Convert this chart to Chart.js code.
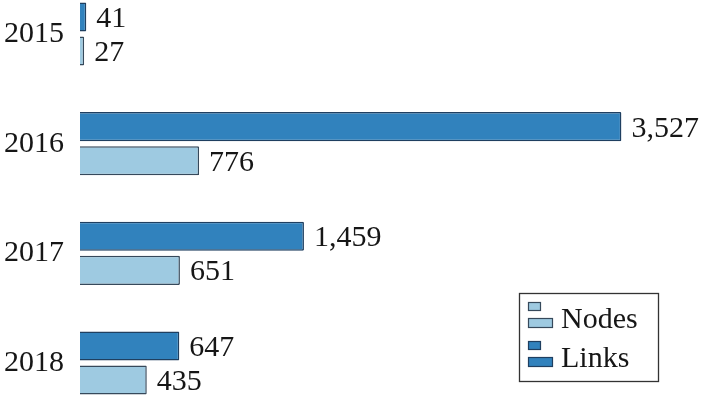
<!DOCTYPE html>
<html>
<head>
<meta charset="utf-8">
<script src="https://cdn.jsdelivr.net/npm/chart.js@4"></script>
<style>
  html, body { margin: 0; padding: 0; background: #fff; }
  #wrap { width: 704px; height: 398px; }
</style>
</head>
<body>
<div id="wrap"><canvas id="myChart"></canvas></div>
<script>
const years = ['2015', '2016', '2017', '2018']
const links = [41, 3527, 1459, 647]
const nodes = [27, 776, 651, 435]
const seriesNames = ['Links', 'Nodes']

const FONT = '"Liberation Serif", "Times New Roman", serif'
const TXT = '#161616'

// value labels at the end of each bar
const valueLabels = {
    id: 'valueLabels',
    afterDatasetsDraw(chart) {
        const ctx = chart.ctx
        ctx.save()
        ctx.font = '30px ' + FONT
        ctx.fillStyle = TXT
        ctx.textBaseline = 'middle'
        ctx.textAlign = 'left'
        chart.data.datasets.forEach((ds, i) => {
            chart.getDatasetMeta(i).data.forEach((bar, j) => {
                ctx.fillText(ds.data[j].toLocaleString('en-US'), bar.x + 10, bar.y + 2)
            })
        })
        ctx.restore()
    }
}

// boxed legend in the lower right, Nodes first
const boxLegend = {
    id: 'boxLegend',
    afterDraw(chart) {
        const ctx = chart.ctx
        const x = 519, y = 293, w = 139, h = 88
        ctx.save()
        ctx.fillStyle = '#fff'
        ctx.fillRect(x, y, w, h)
        ctx.strokeStyle = '#333'
        ctx.lineWidth = 1.3
        ctx.strokeRect(x + 0.5, y + 0.5, w, h)
        const order = [1, 0]
        order.forEach((di, k) => {
            const ds = chart.data.datasets[di]
            const top = y + 9 + k * 39
            ctx.fillStyle = ds.backgroundColor
            ctx.strokeStyle = ds.borderColor
            ctx.lineWidth = 1.2
            ctx.fillRect(x + 9, top, 13, 9)
            ctx.strokeRect(x + 9.5, top + 0.5, 12, 8)
            ctx.fillRect(x + 9, top + 16, 25, 10)
            ctx.strokeRect(x + 9.5, top + 16.5, 24, 9)
            ctx.fillStyle = TXT
            ctx.font = '30px ' + FONT
            ctx.textBaseline = 'alphabetic'
            ctx.textAlign = 'left'
            ctx.fillText(ds.label, x + 42, top + 26)
        })
        ctx.restore()
    }
}

let chart

function showChart() {
    chart && chart.destroy()
    chart = new Chart(document.getElementById('myChart'), {
        type: 'bar',
        data: {
            labels: years,
            datasets: [{
                label: seriesNames[0],
                data: links,
                backgroundColor: '#3182bd',
                borderColor: '#1f3f60',
                borderWidth: 1.5,
                borderRadius: 1,
                clip: false
            }, {
                label: seriesNames[1],
                data: nodes,
                backgroundColor: '#9ecae1',
                borderColor: '#36495b',
                borderWidth: 1.5,
                borderRadius: 1,
                clip: false
            }]
        },
        options: {
            indexAxis: 'y',
            responsive: true,
            maintainAspectRatio: false,
            animation: false,
            categoryPercentage: 0.621,
            barPercentage: 0.853,
            layout: { padding: { top: 34, bottom: 35, left: 0, right: 10 } },
            scales: {
                x: { display: false, min: 0, max: 4000 },
                y: {
                    offset: false,
                    grid: { display: false, drawTicks: false },
                    border: { display: false },
                    ticks: { color: TXT, font: { family: FONT, size: 30 }, padding: 16 },
                    afterFit(scale) { scale.width = 80 }
                }
            },
            plugins: {
                legend: { display: false },
                tooltip: { enabled: false }
            }
        },
        plugins: [valueLabels, boxLegend]
    })
}

showChart()
</script>
</body>
</html>
